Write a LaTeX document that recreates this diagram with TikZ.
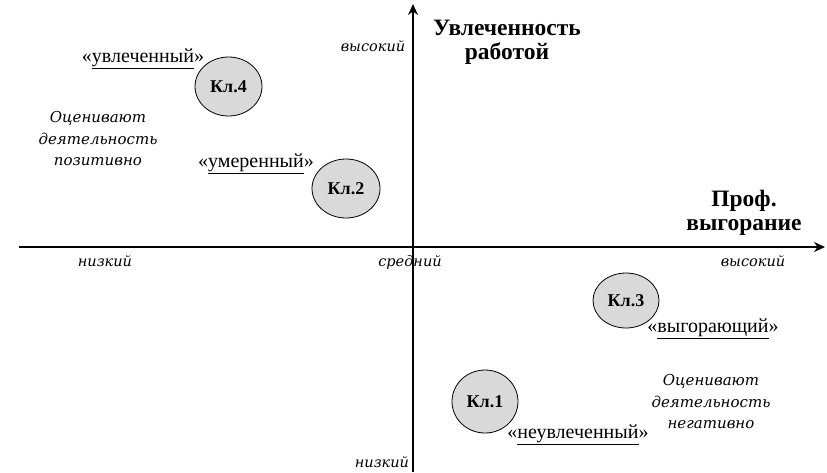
\documentclass[tikz,border=0pt]{standalone}
\usepackage{fontspec}
\setmainfont{Liberation Serif}
\newfontfamily\itf{DejaVu Serif}
\usetikzlibrary{arrows.meta,shapes.geometric}
\tikzset{
  cl/.style={ellipse, draw=black, line width=0.8pt, fill=gray!30, inner sep=0pt, font=\bfseries\fontsize{18}{20}\selectfont},
  lbl/.style={font=\fontsize{20}{22}\selectfont, inner sep=0pt},
  lvl/.style={font=\itf\itshape\fontsize{14.5}{16}\selectfont, inner sep=0pt},
  note/.style={font=\itf\itshape\fontsize{15}{21.5}\selectfont, align=center, inner sep=0pt},
  ttl/.style={font=\bfseries\fontsize{23.5}{24}\selectfont, align=center, inner sep=0pt},
  axis/.style={line width=2.6pt, -{Stealth[length=11pt,width=10pt]}}
}
\begin{document}
\begin{tikzpicture}[x=1pt,y=-1pt]
\useasboundingbox (0,0) rectangle (827,472);
% level labels
\node[lvl] (vh) at (373,46) {высокий};
\node[lvl] (hl) at (105,261) {низкий};
\node[lvl] (mid) at (410,262) {средний};
\node[lvl] (hh) at (753,261) {высокий};
\node[lvl] (vl) at (382,462) {низкий};
% axes
\coordinate (xs) at (19,247);
\coordinate (xe) at (825,247);
\coordinate (ys) at (413,472);
\coordinate (ye) at (413,4);
\draw[axis] (xs) -- (xe);
\draw[axis] (ys) -- (ye);
% titles
\node[ttl] (t1) at (507,42) {Увлеченность\\работой};
\node[ttl] (t2) at (744,213) {Проф.\\выгорание};
% clusters
\node[cl, minimum width=67pt, minimum height=59pt] (k4) at (228.5,86.5) {Кл.4};
\node[cl, minimum width=68pt, minimum height=59pt] (k2) at (346,188.5) {Кл.2};
\node[cl, minimum width=66pt, minimum height=55pt] (k3) at (626,300.5) {Кл.3};
\node[cl, minimum width=66pt, minimum height=63pt] (k1) at (485,401.5) {Кл.1};
% type labels
\node[lbl] (l4) at (143,59) {«\underline{увлеченный}»};
\node[lbl] (l2) at (256,164) {«\underline{умеренный}»};
\node[lbl] (l3) at (713,329) {«\underline{выгорающий}»};
\node[lbl] (l1) at (578,435) {«\underline{неувлеченный}»};
% notes
\node[note] (n1) at (98,139) {Оценивают\\деятельность\\позитивно};
\node[note] (n2) at (711,402) {Оценивают\\деятельность\\негативно};
\end{tikzpicture}
\end{document}
